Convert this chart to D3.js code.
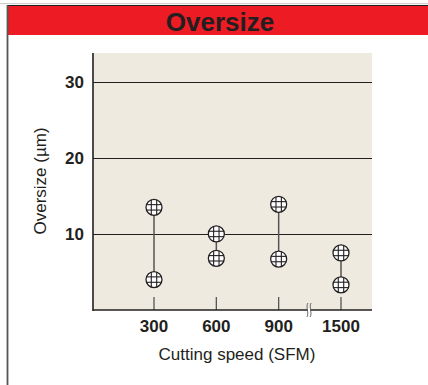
<!DOCTYPE html>
<meta charset="utf-8" />
<script src="https://d3js.org/d3.v7.js"></script>
<style>
	body { margin: 0; background: #fff; }
	svg { display: block; font-family: "Liberation Sans", Arial, sans-serif; }
</style>
<div id="chart"></div>
<script>
	// data
	const speeds = ["300", "600", "900", "1500"];
	const highValues = [13.5, 10.0, 13.9, 7.5];
	const lowValues = [4.0, 6.8, 6.7, 3.3];
	const yTicks = [10, 20, 30];

	const W = 428, H = 385;
	const plot = { left: 93, right: 372, top: 53, bottom: 310 };

	const svg = d3.select("#chart").append("svg")
		.attr("width", W)
		.attr("height", H);

	// panel frame + red header
	svg.append("rect").attr("x", 0).attr("y", 3).attr("width", W).attr("height", 1.2).attr("fill", "#cfcfcf");
	svg.append("rect").attr("x", 7).attr("y", 5).attr("width", W - 7).attr("height", 30).attr("fill", "#ed1c24");
	svg.append("line").attr("x1", 7).attr("x2", W).attr("y1", 5.5).attr("y2", 5.5).attr("stroke", "#231f20").attr("stroke-width", 1.2);
	svg.append("line").attr("x1", 7.5).attr("x2", 7.5).attr("y1", 5).attr("y2", H).attr("stroke", "#555").attr("stroke-width", 1.8);
	svg.append("text")
		.attr("x", 220).attr("y", 31)
		.attr("text-anchor", "middle")
		.attr("font-size", 26).attr("font-weight", "bold")
		.attr("fill", "#231f20")
		.text("Oversize");

	const x = d3.scalePoint().domain(speeds).range([154, 341]);
	const y = d3.scaleLinear().domain([0, 33.8]).range([plot.bottom, plot.top]);

	// plot background
	svg.append("rect")
		.attr("x", plot.left).attr("y", plot.top)
		.attr("width", plot.right - plot.left).attr("height", plot.bottom - plot.top)
		.attr("fill", "#eeeae0");

	// gridlines
	svg.selectAll(".grid").data(yTicks).enter().append("line")
		.attr("x1", plot.left).attr("x2", plot.right)
		.attr("y1", d => Math.round(y(d)) + 0.5).attr("y2", d => Math.round(y(d)) + 0.5)
		.attr("stroke", "#231f20").attr("stroke-width", 1);

	// y labels
	svg.selectAll(".ylab").data(yTicks).enter().append("text")
		.attr("x", 84).attr("y", d => y(d) + 6)
		.attr("text-anchor", "end")
		.attr("font-size", 17).attr("font-weight", "bold")
		.attr("fill", "#231f20")
		.text(d => d);

	// x ticks (inside, rising from axis)
	svg.selectAll(".xtick").data(speeds).enter().append("line")
		.attr("x1", d => x(d)).attr("x2", d => x(d))
		.attr("y1", plot.bottom - 13).attr("y2", plot.bottom)
		.attr("stroke", "#555").attr("stroke-width", 1.3);

	svg.selectAll(".xlab").data(speeds).enter().append("text")
		.attr("x", d => x(d)).attr("y", 332)
		.attr("text-anchor", "middle")
		.attr("font-size", 17).attr("font-weight", "bold")
		.attr("fill", "#231f20")
		.text(d => d);

	// axes lines
	svg.append("line").attr("x1", plot.left).attr("x2", plot.left).attr("y1", plot.top).attr("y2", plot.bottom + 1)
		.attr("stroke", "#231f20").attr("stroke-width", 1.6);
	svg.append("line").attr("x1", plot.left).attr("x2", plot.right).attr("y1", plot.bottom).attr("y2", plot.bottom)
		.attr("stroke", "#231f20").attr("stroke-width", 1.6);

	// axis break mark
	const bx = 309, by = plot.bottom;
	const brk = svg.append("g").attr("transform", `translate(${bx},${by})`);
	brk.append("rect").attr("x", -1.2).attr("y", -2).attr("width", 2.4).attr("height", 4).attr("fill", "#fff");
	[-1.6, 1.6].forEach(dx => {
		brk.append("path")
			.attr("d", `M${dx + 0.5},-7 C${dx - 2},-3 ${dx + 2},3 ${dx - 0.5},7`)
			.attr("fill", "none").attr("stroke", "#555").attr("stroke-width", 0.9);
	});

	// connecting lines
	svg.selectAll(".range").data(speeds).enter().append("line")
		.attr("x1", d => x(d)).attr("x2", d => x(d))
		.attr("y1", (d, i) => y(highValues[i])).attr("y2", (d, i) => y(lowValues[i]))
		.attr("stroke", "#555").attr("stroke-width", 1.5);

	// markers
	const pts = [];
	speeds.forEach((s, i) => {
		pts.push({ s, v: highValues[i] });
		pts.push({ s, v: lowValues[i] });
	});
	const r = 8;
	const mk = svg.selectAll(".mk").data(pts).enter().append("g")
		.attr("transform", d => `translate(${x(d.s)},${y(d.v)})`);
	mk.append("circle").attr("r", r).attr("fill", "#fff").attr("stroke", "#231f20").attr("stroke-width", 1.3);
	[-2.7, 2.7].forEach(o => {
		const h = Math.sqrt(r * r - o * o);
		mk.append("line").attr("x1", o).attr("x2", o).attr("y1", -h).attr("y2", h)
			.attr("stroke", "#231f20").attr("stroke-width", 1.1);
		mk.append("line").attr("y1", o).attr("y2", o).attr("x1", -h).attr("x2", h)
			.attr("stroke", "#231f20").attr("stroke-width", 1.1);
	});

	// axis titles
	svg.append("text")
		.attr("transform", "translate(46,181) rotate(-90)")
		.attr("text-anchor", "middle")
		.attr("font-size", 17)
		.attr("fill", "#231f20")
		.text("Oversize (µm)");
	svg.append("text")
		.attr("x", 237).attr("y", 360)
		.attr("text-anchor", "middle")
		.attr("font-size", 17)
		.attr("fill", "#231f20")
		.text("Cutting speed (SFM)");
</script>
